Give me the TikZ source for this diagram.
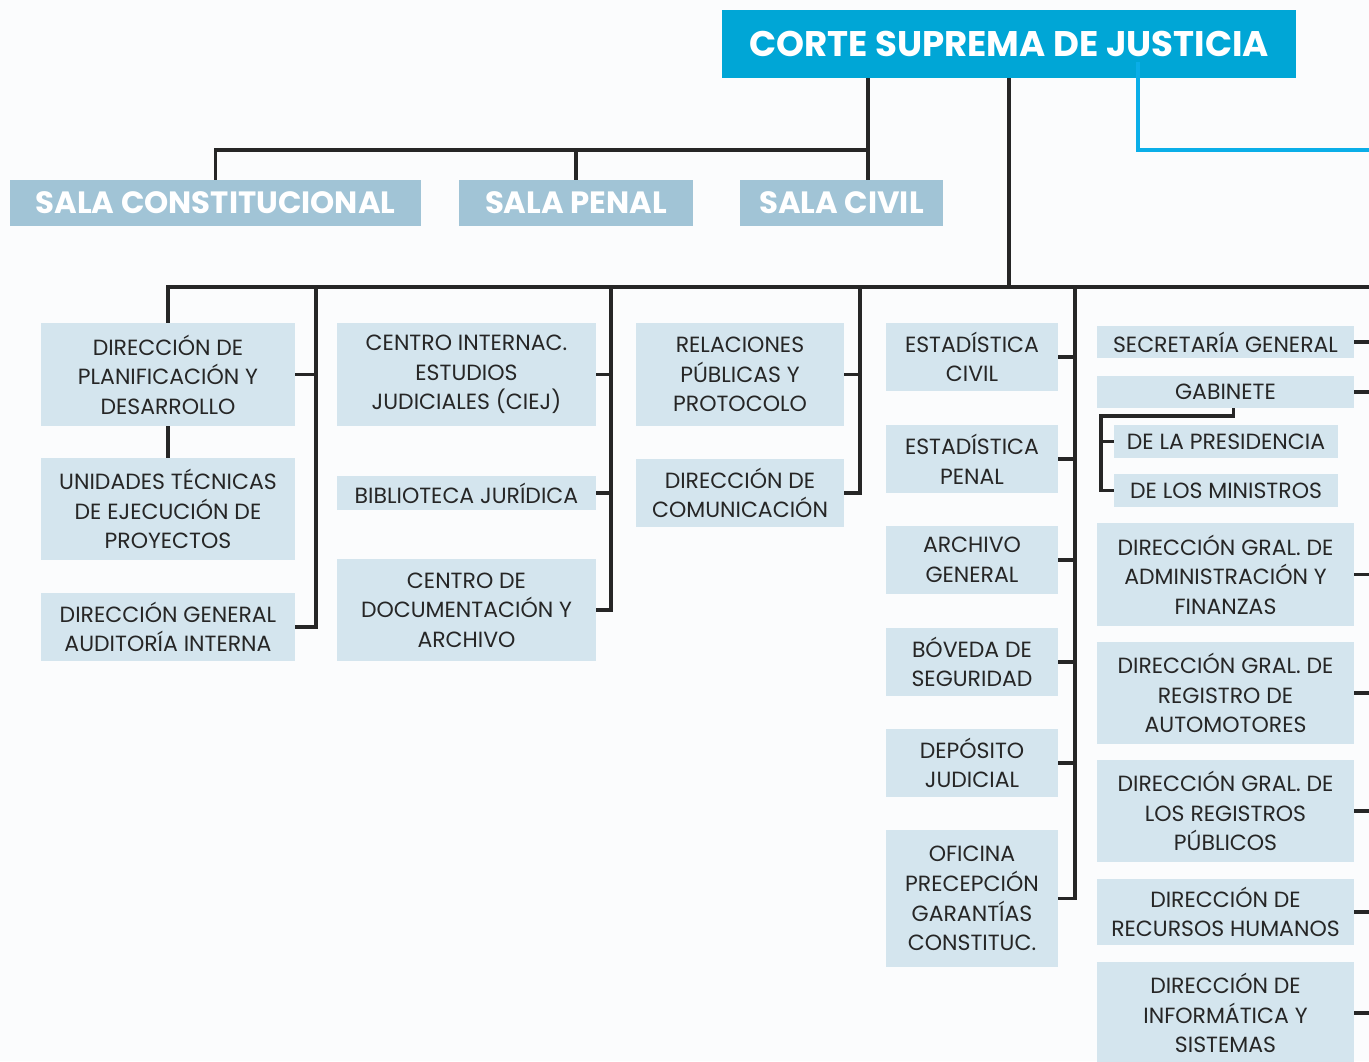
\documentclass[tikz,border=0pt]{standalone}
\usepackage{fontspec}
\setmainfont{Poppins}
\usetikzlibrary{calc}
\definecolor{cortecol}{RGB}{0,166,214}
\definecolor{salacol}{RGB}{161,196,214}
\definecolor{boxcol}{RGB}{212,229,238}
\definecolor{inkcol}{RGB}{38,38,38}
\definecolor{linkblue}{RGB}{10,174,232}
\definecolor{paper}{RGB}{251,252,253}

\begin{document}
\begin{tikzpicture}[x=0.5pt,y=-0.5pt,
  unit/.style={fill=boxcol,text=inkcol,align=center,inner sep=0pt,
    font=\fontsize{11}{14.8}\selectfont},
  sala/.style={fill=salacol,text=white,inner sep=0pt,minimum height=23pt,
    font=\fontsize{15.4}{18}\selectfont\bfseries},
  sz/.style 2 args={minimum width=#1*0.5pt,minimum height=#2*0.5pt},
  link/.style={draw=inkcol,line width=1.7pt},
  bluelink/.style={draw=linkblue,line width=1.6pt}]
\fill[paper] (0,0) rectangle (1369,1061);
\clip (0,0) rectangle (1369,1061);

\node[fill=cortecol,text=white,inner sep=0pt,sz={574}{68},
  font=\fontsize{17.8}{20}\selectfont\bfseries] (corte) at (1009,44) {CORTE SUPREMA DE JUSTICIA};
\node[sala,sz={411}{46}] (const) at (215.5,203) {SALA CONSTITUCIONAL};
\node[sala,sz={234}{46}] (penal) at (576,203) {SALA PENAL};
\node[sala,sz={203}{46}] (civil) at (841.5,203) {SALA CIVIL};

\node[unit,sz={254}{103}] (plan) at (168,374.5) {DIRECCIÓN DE\\PLANIFICACIÓN Y\\DESARROLLO};
\node[unit,sz={254}{102}] (unid) at (168,509) {UNIDADES TÉCNICAS\\DE EJECUCIÓN DE\\PROYECTOS};
\node[unit,sz={254}{68}] (audit) at (168,627) {DIRECCIÓN GENERAL\\AUDITORÍA INTERNA};

\node[unit,sz={259}{103}] (ciej) at (466.5,374.5) {CENTRO INTERNAC.\\ESTUDIOS\\JUDICIALES (CIEJ)};
\node[unit,sz={259}{34}] (biblio) at (466.5,493) {BIBLIOTECA JURÍDICA};
\node[unit,sz={259}{102}] (cdoc) at (466.5,610) {CENTRO DE\\DOCUMENTACIÓN Y\\ARCHIVO};

\node[unit,sz={208}{103}] (rrpp) at (740,374.5) {RELACIONES\\PÚBLICAS Y\\PROTOCOLO};
\node[unit,sz={208}{68}] (dcom) at (740,493) {DIRECCIÓN DE\\COMUNICACIÓN};

\node[unit,sz={172}{68}] (estciv) at (972,357) {ESTADÍSTICA\\CIVIL};
\node[unit,sz={172}{68}] (estpen) at (972,459) {ESTADÍSTICA\\PENAL};
\node[unit,sz={172}{68}] (archivo) at (972,560) {ARCHIVO\\GENERAL};
\node[unit,sz={172}{68}] (boveda) at (972,662) {BÓVEDA DE\\SEGURIDAD};
\node[unit,sz={172}{68}] (deposito) at (972,763) {DEPÓSITO\\JUDICIAL};
\node[unit,sz={172}{137}] (oficina) at (972,898.5) {OFICINA\\PRECEPCIÓN\\GARANTÍAS\\CONSTITUC.};

\node[unit,sz={257}{32}] (secgen) at (1225.5,342) {SECRETARÍA GENERAL};
\node[unit,sz={257}{32}] (gabinete) at (1225.5,392) {GABINETE};
\node[unit,sz={224}{33}] (presid) at (1226,441.5) {DE LA PRESIDENCIA};
\node[unit,sz={224}{33}] (minis) at (1226,490.5) {DE LOS MINISTROS};
\node[unit,sz={257}{103}] (admin) at (1225.5,574.5) {DIRECCIÓN GRAL. DE\\ADMINISTRACIÓN Y\\FINANZAS};
\node[unit,sz={257}{102}] (auto) at (1225.5,693) {DIRECCIÓN GRAL. DE\\REGISTRO DE\\AUTOMOTORES};
\node[unit,sz={257}{102}] (regpub) at (1225.5,811) {DIRECCIÓN GRAL. DE\\LOS REGISTROS\\PÚBLICOS};
\node[unit,sz={257}{66}] (rrhh) at (1225.5,912) {DIRECCIÓN DE\\RECURSOS HUMANOS};
\node[unit,sz={257}{102}] (infor) at (1225.5,1013) {DIRECCIÓN DE\\INFORMÁTICA Y\\SISTEMAS};

\coordinate (salabus) at (868,150);
\coordinate (mainbus) at (0,287);
\coordinate (rightend) at (1385,287);
\coordinate (sp1) at (316,287);
\coordinate (sp2) at (611,287);
\coordinate (sp3) at (860,287);
\coordinate (sp4) at (1075,287);
\coordinate (gabknee) at (1101,416);
\coordinate (bluebus) at (1138,150);
\coordinate (blueend) at (1385,150);

\draw[link] (salabus |- corte.south) -- (salabus |- civil.north);
\draw[link] (salabus) -| (const.north);
\draw[link] (penal.north) -- (penal.north |- salabus);

\draw[link] (corte.south) -- (corte.south |- mainbus);
\draw[link] (plan.north) -- (plan.north |- mainbus) -- (rightend);
\draw[link] (plan.south) -- (unid.north);

\draw[link] (sp1) |- (audit.east);
\draw[link] (plan.east) -- (plan.east -| sp1);
\draw[link] (sp2) |- (cdoc.east);
\draw[link] (ciej.east) -- (ciej.east -| sp2);
\draw[link] (biblio.east) -- (biblio.east -| sp2);
\draw[link] (sp3) |- (dcom.east);
\draw[link] (rrpp.east) -- (rrpp.east -| sp3);
\draw[link] (sp4) |- (oficina.east);
\foreach \n in {estciv,estpen,archivo,boveda,deposito}
  \draw[link] (\n.east) -- (\n.east -| sp4);

\foreach \n in {secgen,gabinete,admin,auto,regpub,rrhh,infor}
  \draw[link] (\n.east) -- (\n.east -| rightend);
\draw[link] ($(gabinete.south)+(8,0)$) |- (gabknee) |- (minis.west);
\draw[link] (presid.west) -- (presid.west -| gabknee);

\draw[bluelink] ($(bluebus |- corte.south)+(0,-16)$) -- (bluebus) -- (blueend);
\end{tikzpicture}
\end{document}
